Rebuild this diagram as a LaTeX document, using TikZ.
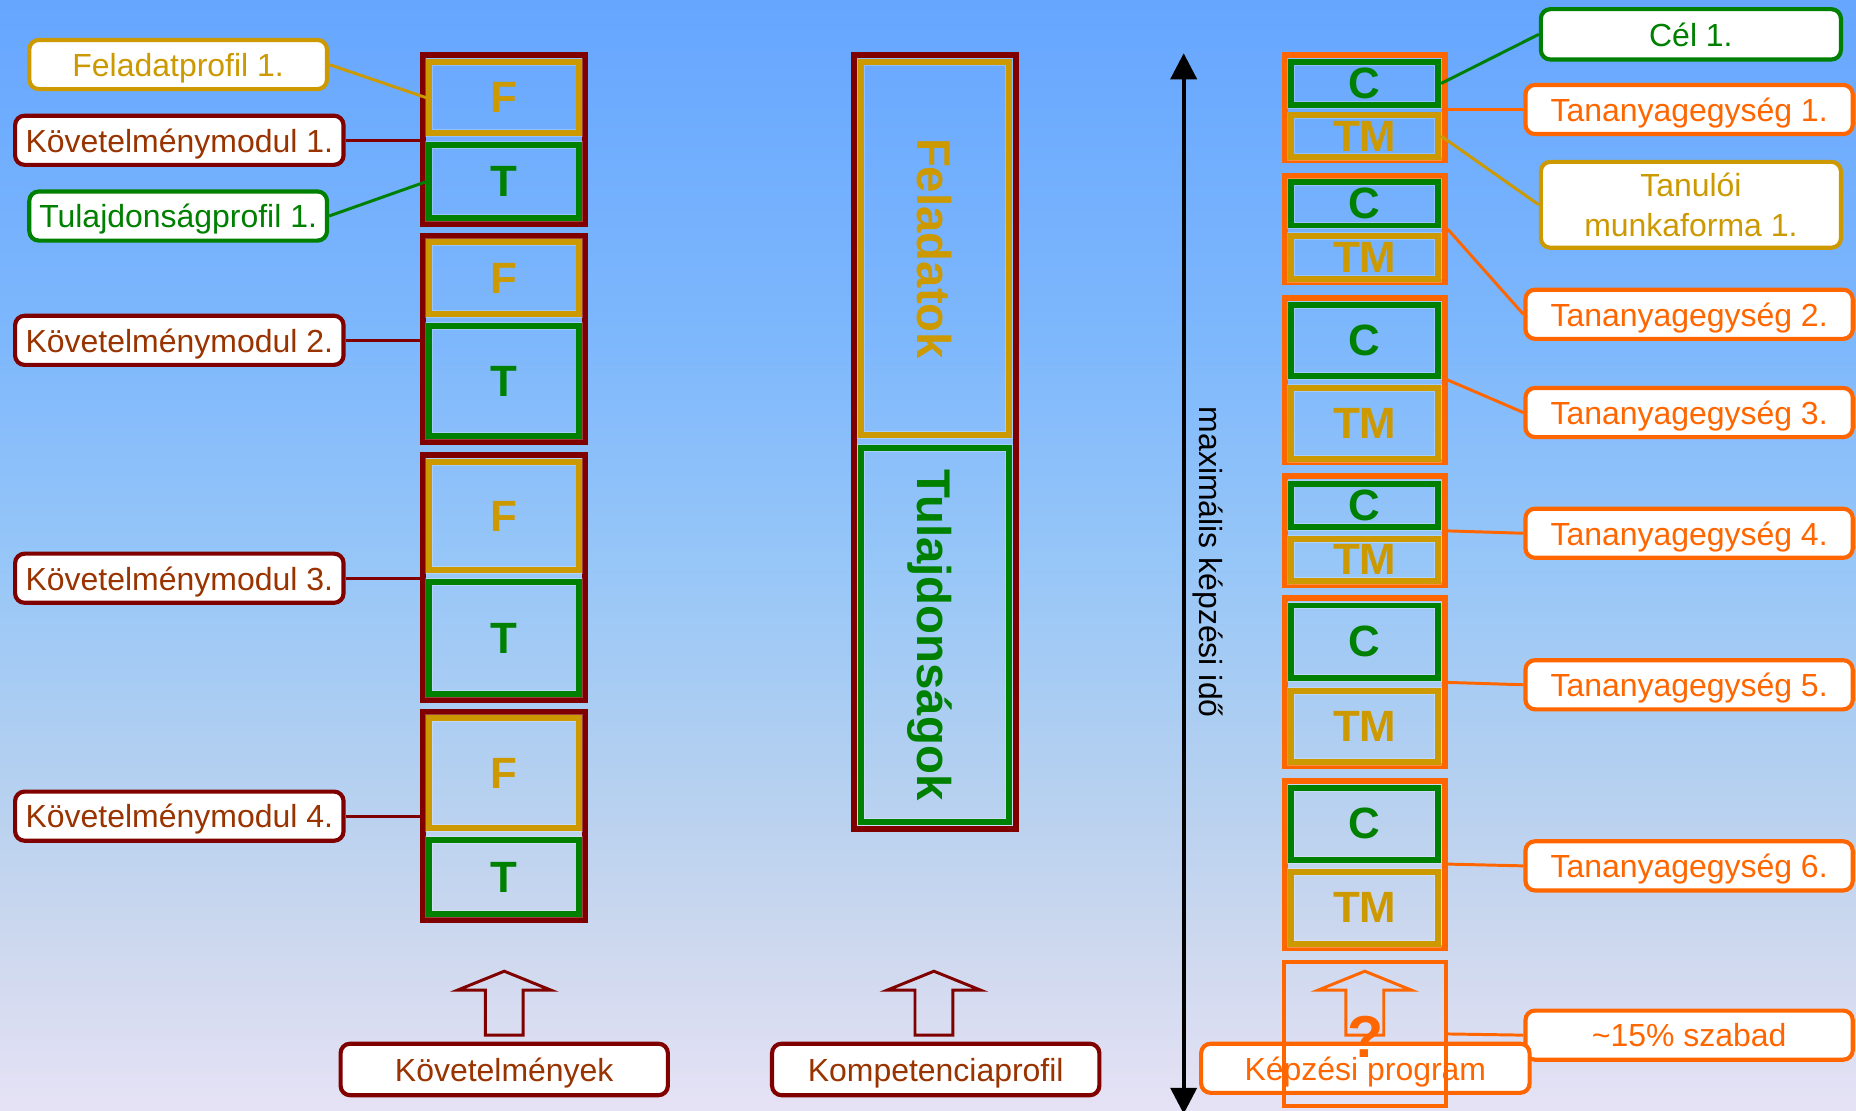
\documentclass[tikz,border=0pt]{standalone}
\usepackage{fontspec}
\setmainfont{Liberation Sans}
\usetikzlibrary{arrows.meta}
\definecolor{dred}{RGB}{128,0,0}
\definecolor{dredtxt}{RGB}{153,51,0}
\definecolor{gold}{RGB}{204,153,0}
\definecolor{grn}{RGB}{0,128,0}
\definecolor{orng}{RGB}{255,102,0}
\definecolor{bgA}{RGB}{102,166,255}
\definecolor{bgB}{RGB}{125,183,252}
\definecolor{bgC}{RGB}{150,198,248}
\definecolor{bgD}{RGB}{180,208,240}
\definecolor{bgE}{RGB}{205,216,238}
\definecolor{bgF}{RGB}{230,226,245}
\pgfdeclareverticalshading{bgshade}{100bp}{color(0bp)=(bgF); color(25bp)=(bgF); color(32.5bp)=(bgE); color(40bp)=(bgD); color(50bp)=(bgC); color(60bp)=(bgB); color(75bp)=(bgA); color(100bp)=(bgA)}
\tikzset{
  lab/.style={draw, fill=white, rounded corners=8pt, line width=3.5pt, inner sep=0pt,
    font=\fontsize{27}{30}\selectfont, text height=20pt, text depth=0pt},
  labL/.style={lab, minimum width=277.5pt, minimum height=41.5pt},
  labS/.style={lab, minimum width=251.5pt, minimum height=41.5pt},
  labR/.style={lab, minimum width=276.5pt, minimum height=41.5pt},
  outerbox/.style={draw, line width=5pt, inner sep=0pt},
  innerbox/.style={draw, line width=5pt, inner sep=0pt,
    preaction={draw=white, draw opacity=0.25, line width=6.6pt},
    font=\bfseries\fontsize{37}{40}\selectfont},
  conn/.style={line width=2.5pt},
  hollow/.style={line width=2.5pt, line join=miter},
}
\begin{document}
\begin{tikzpicture}[x=1pt,y=-1pt]
\fill[shading=bgshade] (0,0) rectangle (1568,938);
\useasboundingbox (0,0) rectangle (1568,938);

% ---------------- left column ----------------
\node[outerbox, dred, minimum width=137pt, minimum height=143pt] (m1) at (426,118) {};
\node[outerbox, dred, minimum width=137pt, minimum height=174pt] (m2) at (426,286.5) {};
\node[outerbox, dred, minimum width=137pt, minimum height=207pt] (m3) at (426,488) {};
\node[outerbox, dred, minimum width=137pt, minimum height=176pt] (m4) at (426,689.5) {};
\node[innerbox, gold, minimum width=127pt, minimum height=60pt] (f1) at (426,82.5) {F};
\node[innerbox, grn,  minimum width=127pt, minimum height=62pt] (t1) at (426,153.5) {T};
\node[innerbox, gold, minimum width=127pt, minimum height=61pt] (f2) at (426,235) {F};
\node[innerbox, grn,  minimum width=127pt, minimum height=93pt] (t2) at (426,322) {T};
\node[innerbox, gold, minimum width=127pt, minimum height=91pt] (f3) at (426,436) {F};
\node[innerbox, grn,  minimum width=127pt, minimum height=95pt] (t3) at (426,539) {T};
\node[innerbox, gold, minimum width=127pt, minimum height=93pt] (f4) at (426,653) {F};
\node[innerbox, grn,  minimum width=127pt, minimum height=63pt] (t4) at (426,741) {T};

\node[labS, draw=gold, text=gold] (fp1) at (150.5,54.5) {Feladatprofil 1.};
\node[labL, draw=dred, text=dredtxt] (km1) at (151.5,118.5) {Követelménymodul 1.};
\node[labS, draw=grn, text=grn] (tp1) at (150.5,182.5) {Tulajdonságprofil 1.};
\node[labL, draw=dred, text=dredtxt] (km2) at (151.5,287.5) {Követelménymodul 2.};
\node[labL, draw=dred, text=dredtxt] (km3) at (151.5,488.5) {Követelménymodul 3.};
\node[labL, draw=dred, text=dredtxt] (km4) at (151.5,689.5) {Követelménymodul 4.};

\draw[conn, gold] (fp1.east) -- (f1.west);
\draw[conn, dred] (km1.east) -- (m1.west |- km1.east);
\draw[conn, grn] (tp1.east) -- (t1.west);
\draw[conn, dred] (km2.east) -- (m2.west |- km2.east);
\draw[conn, dred] (km3.east) -- (m3.west |- km3.east);
\draw[conn, dred] (km4.east) -- (m4.west |- km4.east);

% ---------------- middle column ----------------
\node[outerbox, dred, minimum width=137pt, minimum height=654pt] (comp) at (790,373.5) {};
\node[innerbox, gold, minimum width=125pt, minimum height=315pt] (feladatok) at (790,210) {};
\node[innerbox, grn,  minimum width=125pt, minimum height=316pt] (tulajd) at (790,536.5) {};
\node[rotate=-90, text=gold, font=\bfseries\fontsize{40}{44}\selectfont, text height=29pt, text depth=0pt, inner sep=0pt] (feltxt) at (feladatok.center) {Feladatok};
\node[rotate=-90, text=grn, font=\bfseries\fontsize{40}{44}\selectfont, text height=29pt, text depth=0pt, inner sep=0pt] (tultxt) at (tulajd.center) {Tulajdonságok};

% ---------------- time axis ----------------
\coordinate (ttop) at (1000,45);
\coordinate (tbot) at (1000,941);
\draw[line width=3.2pt, {Triangle[width=22pt,length=22pt]}-{Triangle[width=22pt,length=22pt]}] (ttop) -- (tbot);
\node[rotate=-90, font=\fontsize{27}{30}\selectfont, text height=20pt, text depth=0pt, inner sep=0pt] (idotxt) at (1023,475) {maximális képzési idő};

% ---------------- right column ----------------
\node[outerbox, orng, minimum width=135pt, minimum height=89pt]  (u1) at (1153,91) {};
\node[outerbox, orng, minimum width=135pt, minimum height=90pt]  (u2) at (1153,193.5) {};
\node[outerbox, orng, minimum width=135pt, minimum height=139pt] (u3) at (1153,321) {};
\node[outerbox, orng, minimum width=135pt, minimum height=92pt]  (u4) at (1153,448.5) {};
\node[outerbox, orng, minimum width=135pt, minimum height=142pt] (u5) at (1153,576.5) {};
\node[outerbox, orng, minimum width=135pt, minimum height=141pt] (u6) at (1153,730) {};
\node[innerbox, grn,  minimum width=124pt, minimum height=36pt] (c1) at (1153,70.5) {C};
\node[innerbox, gold, minimum width=124pt, minimum height=35pt] (tm1) at (1153,115) {TM};
\node[innerbox, grn,  minimum width=124pt, minimum height=37pt] (c2) at (1153,172) {C};
\node[innerbox, gold, minimum width=124pt, minimum height=36pt] (tm2) at (1153,217.5) {TM};
\node[innerbox, grn,  minimum width=124pt, minimum height=60pt] (c3) at (1153,287.5) {C};
\node[innerbox, gold, minimum width=124pt, minimum height=60pt] (tm3) at (1153,357.5) {TM};
\node[innerbox, grn,  minimum width=124pt, minimum height=37pt] (c4) at (1153,427) {C};
\node[innerbox, gold, minimum width=124pt, minimum height=35pt] (tm4) at (1153,473) {TM};
\node[innerbox, grn,  minimum width=124pt, minimum height=61pt] (c5) at (1153,542) {C};
\node[innerbox, gold, minimum width=124pt, minimum height=60pt] (tm5) at (1153,613.5) {TM};
\node[innerbox, grn,  minimum width=124pt, minimum height=61pt] (c6) at (1153,696) {C};
\node[innerbox, gold, minimum width=124pt, minimum height=61pt] (tm6) at (1153,767) {TM};

\node[lab, draw=grn, text=grn, minimum width=253.5pt, minimum height=42.5pt] (cel1) at (1428.5,29) {Cél 1.};
\node[labR, draw=orng, text=orng] (ta1) at (1427,92.5) {Tananyagegység 1.};
\node[lab, draw=gold, text=gold, minimum width=253.5pt, minimum height=72.5pt, align=center,
      font=\fontsize{27}{33.5}\selectfont, text height=, text depth=] (tmf1) at (1428.5,173) {Tanulói\\munkaforma 1.};
\node[labR, draw=orng, text=orng] (ta2) at (1427,265.5) {Tananyagegység 2.};
\node[labR, draw=orng, text=orng] (ta3) at (1427,348.5) {Tananyagegység 3.};
\node[labR, draw=orng, text=orng] (ta4) at (1427,450.5) {Tananyagegység 4.};
\node[labR, draw=orng, text=orng] (ta5) at (1427,578.5) {Tananyagegység 5.};
\node[labR, draw=orng, text=orng] (ta6) at (1427,731.5) {Tananyagegység 6.};
\node[labR, draw=orng, text=orng] (szab) at (1427,874.5) {\textasciitilde 15\% szabad};

\draw[conn, grn] (c1.east) -- (cel1.west);
\draw[conn, orng] (u1.east |- ta1.west) -- (ta1.west);
\draw[conn, gold] (tm1.east) -- (tmf1.west);
\draw[conn, orng] (u2.east) -- (ta2.west);
\draw[conn, orng] (u3.east) -- (ta3.west);
\draw[conn, orng] (u4.east) -- (ta4.west);
\draw[conn, orng] (u5.east) -- (ta5.west);
\draw[conn, orng] (u6.east) -- (ta6.west);

% ---------------- bottom ----------------
\node[lab, draw=dred, text=dredtxt, minimum width=276.5pt, minimum height=43.5pt] (kov) at (426,903.5) {Követelmények};
\node[lab, draw=dred, text=dredtxt, minimum width=276.5pt, minimum height=43.5pt] (komp) at (790.5,903.5) {Kompetenciaprofil};
\node[lab, draw=orng, text=orng, minimum width=277.5pt, minimum height=41.5pt] (kprog) at (1153.5,902.5) {Képzési program};

\draw[hollow, dred] (kov.north) ++(-16,-5.5) -- ++(0,-38) -- ++(-23.5,0) -- ++(39.5,-16) -- ++(39.5,16) -- ++(-23.5,0) -- ++(0,38) -- cycle;
\draw[hollow, dred] (komp.north) ++(-17.5,-5.5) -- ++(0,-38) -- ++(-23.5,0) -- ++(39.5,-16) -- ++(39.5,16) -- ++(-23.5,0) -- ++(0,38) -- cycle;
\draw[hollow, orng] (kprog.north) ++(-16.5,-5.5) -- ++(0,-38) -- ++(-23.5,0) -- ++(39.5,-16) -- ++(39.5,16) -- ++(-23.5,0) -- ++(0,38) -- cycle;

\node[draw=orng, line width=3.5pt, minimum width=136.5pt, minimum height=121.5pt, inner sep=0pt] (free) at (1153,873.5) {};
\node[text=orng, font=\bfseries\fontsize{50}{54}\selectfont, inner sep=0pt] (qm) at (1154,876) {?};
\draw[conn, orng] (free.east) -- (szab.west);
\end{tikzpicture}
\end{document}
